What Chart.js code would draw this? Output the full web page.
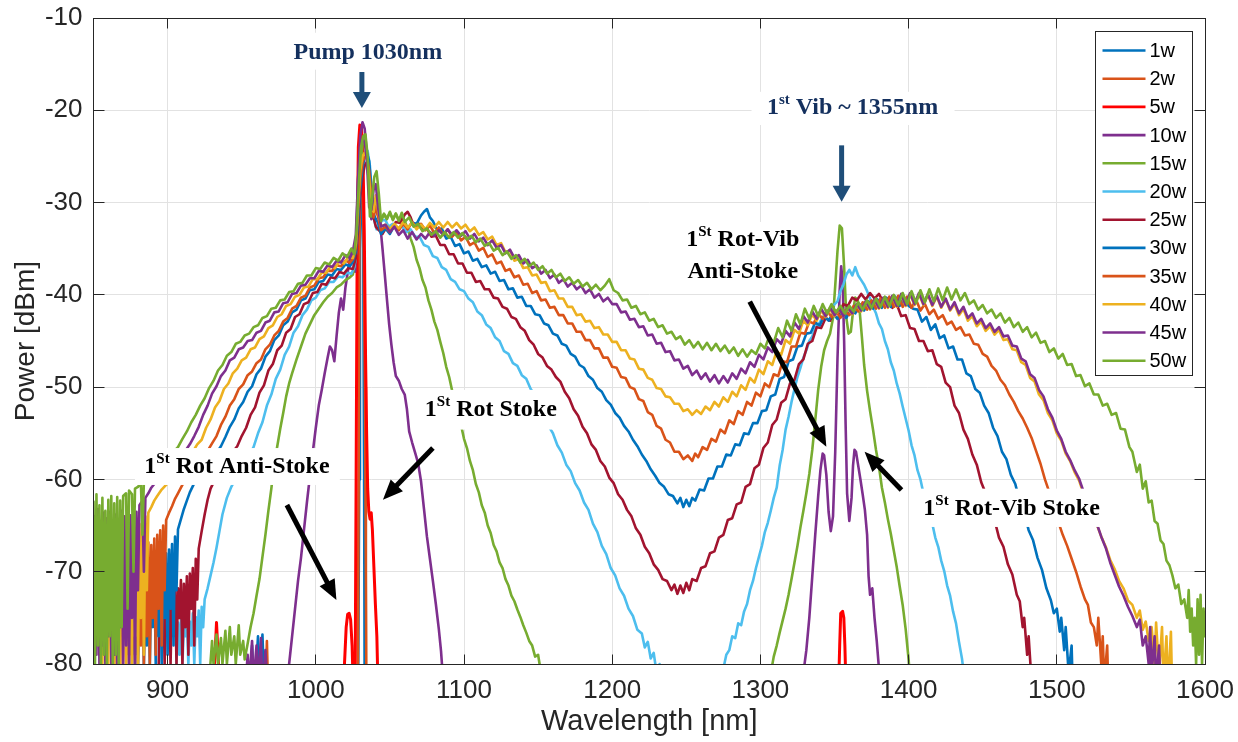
<!DOCTYPE html>
<html>
<head>
<meta charset="utf-8">
<title>Spectra vs pump power</title>
<script src="https://cdn.jsdelivr.net/npm/chart.js@4.4.1/dist/chart.umd.min.js"></script>
<style>
  html, body { margin: 0; padding: 0; background: #fff; }
  #wrap { width: 1238px; height: 742px; }
</style>
</head>
<body>
<div id="wrap"><canvas id="myChart" width="1238" height="742"></canvas></div>
<script>
/*
# spectra, one list of [wavelength nm, power dBm] per pump power
*/
const powers = ['1w', '2w', '5w', '10w', '15w', '20w', '25w', '30w', '35w', '40w', '45w', '50w'];

const s1w = [[955,-84],[957,-78],[958.5,-84],[961,-77],[962,-84],[964,-76.8],[965.5,-84],
  [1028.5,-85],[1029.3,-60],[1029.8,-35],[1030.5,-27],[1031.3,-26.5],[1032,-35],[1032.6,-60],[1033,-85]];

const s2w = [[966,-84],[967,-77.5],[968,-84],
  [1028.3,-85],[1028.9,-60],[1029.4,-35],[1030.2,-25],[1031.2,-24.5],[1032.2,-33],[1033.2,-50],[1033.8,-70],[1034.2,-85]];

const s5w = [[930,-84],[932,-79],[933,-75.5],[934,-78.8],[935.5,-84],
  [1018,-84],[1019.5,-79.5],[1020.5,-76],[1021.5,-74.6],[1022.5,-74.5],[1023.5,-75.2],[1024.5,-78],[1025.5,-84],
  [1026.5,-84],[1027.2,-60],[1027.9,-35],[1028.7,-24],[1029.7,-21.6],[1030.7,-21.8],[1031.7,-24],[1032.7,-33],
  [1033.6,-47],[1034.3,-55],[1035,-61],[1035.8,-63.5],[1036.6,-64.3],[1037.4,-63.6],[1038.2,-65.5],[1039.2,-69.5],
  [1040.2,-73.5],[1041.2,-77],[1042.2,-84],
  [1352.5,-84],[1353.5,-78],[1354.2,-74.5],[1355.5,-74.3],[1356.3,-75],[1357,-78],[1358,-84]];

const s10w = [[952,-84],[954,-79],[955,-82],[957,-77.5],[958,-82],[960,-78],[961,-82],[963,-77.2],[964,-83],[966,-78.5],[968,-84],
  [980,-84],[982,-80],[984,-77],[986,-74],[988,-71],[990,-68.5],[992,-65.5],[994,-62.5],[996,-59.7],[998,-57],
  [1000,-54.4],[1002,-52],[1004,-50.3],[1006,-48.5],[1008,-46.8],[1009.5,-45.6],[1011,-46],[1012.5,-47.2],[1014,-44.5],
  [1015.5,-42],[1017,-40.4],[1018.5,-41.6],[1020,-39.2],[1021.5,-37.6],[1023,-36],[1024.5,-35],[1025.5,-36.6],
  [1026.5,-37.5],[1027.5,-33],[1028.5,-27.5],[1030,-22.8],[1031.5,-21.3],[1033,-22],[1034.5,-24.8],[1036,-28.5],
  [1037.5,-31.8],[1039,-31.2],[1040.5,-30.8],[1042,-31.4],[1043.5,-32.4],[1045,-35],[1046.5,-37.7],[1048,-40.5],
  [1049.5,-43.2],[1051,-45.4],[1052.5,-47.3],[1054,-48.8],[1056,-49.3],[1058,-50.2],[1060,-50.8],[1061.5,-52.4],
  [1063,-54.8],[1065,-56],[1067,-57.1],[1069,-58.2],[1071,-60.2],[1073,-63.2],[1075,-66.2],[1077,-68.6],[1079,-71],
  [1081,-73.5],[1083,-76.2],[1084.5,-78.6],[1086,-82],
  [1326,-85],[1329,-81],[1331,-78.5],[1333,-75],[1335,-70.5],[1337,-66],[1339,-61.8],[1340.5,-59],[1342,-57.2],
  [1343,-57.4],[1344.5,-59.5],[1346,-63.5],[1347.5,-65.6],[1349,-64],[1350.5,-57],[1352,-47],[1353.5,-39.5],
  [1354.5,-36.9],[1355.5,-38.5],[1356.5,-45],[1357.5,-54],[1358.5,-61.5],[1360,-64.5],[1361.5,-62],[1362.5,-58.5],
  [1363.5,-56.8],[1364.5,-57],[1366,-58.5],[1367.5,-60],[1369,-61.6],[1370.5,-63.3],[1372,-66],[1373,-70.5],
  [1374,-72.5],[1375.5,-71.8],[1377,-75],[1378.5,-77.5],[1380,-80.5],[1382,-85]];

const s15w = [[928,-82],[930,-77.5],[931,-80],[933,-76.8],[934,-80],[936,-77.2],[937,-80],[939,-76.4],[940,-80],
  [942,-76],[943,-79],[945,-77],[946,-80],[948,-75.8],[949,-79],[951,-77.5],[952,-79.5],[954,-77.8],[956,-76],
  [958,-74.5],[960,-72.6],[962,-70.8],[964,-68.4],[966,-66],[968,-63.4],[970,-61],[972,-58.2],[974,-56.4],[976,-54.5],
  [978,-52.8],[980,-51],[982,-49.6],[984,-48.5],[987,-47],[990,-45.6],[993,-44.2],[996,-43.2],[999,-42.2],[1002,-41.5],
  [1005,-40.8],[1008,-40.2],[1011,-39.8],[1014,-39.2],[1017,-38.9],[1020,-38.4],[1023,-38.1],[1025,-37.8],
  [1027,-36],[1028.5,-31],[1030,-26.5],[1031.5,-23.8],[1033,-23.2],[1034.5,-24.5],[1036,-28.5],[1037.5,-31.5],
  [1039,-30.5],[1040.5,-29.5],[1042,-31.2],[1044,-31.8],[1046,-31.2],[1048,-31.7],[1050,-31.1],[1052,-31.8],
  [1054,-31.2],[1056,-31.9],[1058,-31.4],[1060,-32],[1062,-32.8],[1064,-33.9],[1066,-34.8],[1068,-36.2],[1070,-37.1],
  [1072,-38.4],[1074,-39.2],[1076,-40.6],[1078,-41.6],[1080,-42.9],[1082,-43.8],[1084,-45.1],[1086,-46.3],[1088,-47.8],
  [1090,-48.9],[1092,-50.4],[1094,-51.5],[1096,-53],[1098,-54.1],[1100,-55.6],[1102,-56.6],[1104,-58],[1106,-59],
  [1108,-60.5],[1110,-61.4],[1112,-62.8],[1114,-63.6],[1116,-65],[1118,-65.8],[1120,-67.1],[1122,-67.8],[1124,-69],
  [1126,-69.6],[1128,-70.8],[1130,-71.5],[1132,-72.6],[1134,-73.2],[1136,-74.1],[1138,-74.9],[1140,-75.8],[1142,-76.6],
  [1144,-77.5],[1146,-78],[1148,-79.2],[1150,-79],[1152,-81],[1154,-84],
  [1304,-84],[1307,-81],[1309,-79.2],[1311,-78],[1313,-76.6],[1315,-75.3],[1317,-74],[1319,-72.5],[1321,-70.8],
  [1323,-69],[1325,-67.2],[1327,-65.2],[1329,-63.4],[1331,-61.5],[1333,-59.4],[1335,-56.8],[1337,-53.6],[1339,-50.3],
  [1341,-47.8],[1343,-46],[1345,-45],[1347,-44.2],[1349,-42.5],[1350.5,-39],[1352,-35.3],[1353.5,-32.5],[1355,-32.8],
  [1356.5,-37],[1358,-42.5],[1359.5,-44.2],[1361,-44],[1362.5,-41.8],[1364,-40.3],[1365.5,-40.5],[1367,-41.8],
  [1368.5,-44.6],[1370,-47.6],[1372,-50.4],[1374,-52.6],[1376,-54.6],[1378,-56.8],[1380,-58.6],[1382,-60.9],
  [1384,-62.5],[1386,-64.3],[1388,-65.9],[1390,-67.7],[1392,-69.5],[1394,-71.6],[1396,-73.6],[1398,-76.2],
  [1400,-79.5],[1402,-84]];

const s20w = [[906,-80],[907,-75.5],[908,-79],[909,-75],[910,-80],[911,-75.8],[912,-77],[913,-74.8],[914,-80],
  [915,-75.4],[916,-78],[917,-74.5],[918,-80],[919,-74.9],[920,-77],[921,-74.2],[922,-80],[923,-73.8],[924,-76],
  [925,-73],[927,-71.8],[929,-70.4],[931,-69],[933,-67.4],[935,-65.6],[937,-63.8],[940,-62],[943,-60.8],[946,-59.9],
  [949,-59],[952,-58.4],[955,-57.4],[958,-56.5],[961,-55],[964,-53.8],[967,-52],[970,-50.8],[973,-49.1],[976,-48.1],
  [979,-46.5],[982,-45.6],[985,-44.1],[988,-43.4],[991,-42.2],[994,-41.6],[997,-40.6],[1000,-40.3],[1003,-39.5],
  [1006,-39.3],[1009,-38.6],[1012,-38.6],[1015,-38],[1018,-38.1],[1021,-37.6],[1024,-37.7],
  [1026,-37],[1027.5,-35],[1029,-31.5],[1030.5,-27.8],[1032,-25.2],[1033.5,-24.5],[1035,-24.4],[1036.5,-26],
  [1038,-29.5],[1039.5,-32],[1041,-32.9],[1043,-32.3],[1045,-31.9],[1047,-31.9],[1049,-32.6],[1052,-32.3],[1055,-32.9],
  [1058,-32.5],[1061,-33.2],[1064,-32.9],[1067,-33.7],[1070,-33.7],[1073,-34.6],[1076,-34.8],[1079,-35.8],[1082,-36],
  [1085,-37],[1088,-37.3],[1091,-38.3],[1094,-38.6],[1097,-39.4],[1100,-39.6],[1103,-40.4],[1106,-40.8],[1109,-41.8],
  [1112,-42.2],[1115,-43.2],[1118,-43.6],[1121,-44.6],[1124,-45],[1127,-46.1],[1130,-46.4],[1133,-47.4],[1136,-47.7],
  [1139,-48.7],[1142,-49.1],[1145,-50.2],[1148,-50.9],[1151,-52.1],[1154,-52.9],[1157,-54.2],[1160,-55],[1163,-56.3],
  [1166,-57.1],[1169,-58.4],[1172,-59.1],[1175,-60.4],[1178,-61.2],[1181,-62.5],[1184,-63.3],[1187,-64.8],[1190,-65.7],
  [1193,-67.2],[1196,-68.1],[1199,-69.6],[1202,-70.4],[1205,-71.8],[1208,-72.6],[1211,-74],[1214,-74.8],[1217,-76.3],
  [1220,-76.7],[1222,-78.2],[1224,-77.6],[1226,-79.4],[1228,-78.8],[1230,-81],[1232,-80],[1234,-84],
  [1272,-84],[1275,-80.5],[1277,-79],[1279,-78.5],[1281,-77],[1283,-77.2],[1285,-75.6],[1287,-75.8],[1289,-74.3],
  [1291,-73.5],[1293,-72],[1295,-71],[1297,-69.6],[1299,-68.4],[1301,-67.2],[1303,-65.7],[1305,-64.7],[1307,-63.4],
  [1309,-62],[1311,-60.9],[1313,-58.5],[1315,-56.8],[1317,-54.6],[1319,-53.2],[1321,-51.6],[1323,-50.2],[1325,-48.9],
  [1327,-47.9],[1329,-46.8],[1331,-46],[1333,-45],[1335,-44.5],[1337,-43.6],[1340,-43],[1343,-42.2],[1346,-41.9],
  [1349,-41.2],[1352,-40.7],[1354,-39.6],[1356,-38.9],[1358,-37.8],[1360,-37.3],[1362,-37.9],[1364,-37],[1366,-37.9],
  [1368,-38.4],[1370,-38.9],[1372,-39.6],[1374,-40.4],[1376,-41.3],[1378,-42],[1380,-43.1],[1382,-43.7],[1384,-45],
  [1386,-45.9],[1388,-47.3],[1390,-48.2],[1392,-49.6],[1394,-50.7],[1396,-52.1],[1398,-53.4],[1400,-54.7],[1402,-56.3],
  [1404,-57.4],[1406,-59],[1408,-60],[1410,-61.5],[1412,-62.3],[1414,-63.8],[1416,-64.8],[1418,-66.3],[1420,-67.3],
  [1422,-68.8],[1424,-69.9],[1426,-71.5],[1428,-72.6],[1430,-74.3],[1432,-75.6],[1434,-77.6],[1436,-79.4],[1438,-82]];

const s25w = [[894,-80],[895,-72],[896,-78],[897,-71.5],[898,-80],[899,-72.2],[900,-76],[901,-71.4],[902,-80],
  [903,-72],[904,-77],[905,-71.2],[906,-80],[907,-71.8],[908,-75],[909,-70.9],[910,-80],[911,-71.3],[912,-76],
  [913,-70.5],[914,-79],[915,-70.2],[916,-74],[917,-69.6],[918,-78],[919,-68.6],[920,-73],[921,-67.5],[923,-65.6],
  [925,-63.8],[927,-62.2],[929,-61],[932,-60],[935,-59.2],[938,-58.3],[941,-57.7],[944,-57],[947,-56.4],[950,-55.3],
  [953,-54.4],[956,-53],[959,-52.2],[962,-50.6],[965,-49.8],[968,-48.2],[971,-47.5],[974,-46],[977,-45.5],[980,-44.1],
  [983,-43.7],[986,-42.4],[989,-42.1],[992,-41],[995,-40.8],[998,-39.8],[1001,-39.7],[1004,-38.8],[1007,-38.9],
  [1010,-38.1],[1013,-38.2],[1016,-37.5],[1019,-37.7],[1022,-37.1],[1025,-37.2],
  [1027,-36],[1028.5,-33],[1030,-29.5],[1031.5,-27.2],[1033,-26],[1034.5,-25.6],[1036,-26.5],[1037.5,-29],
  [1039,-31.6],[1040.5,-32.6],[1042,-32.9],[1045,-33.4],[1048,-32.6],[1051,-33],[1054,-32.1],[1057,-32.2],[1060,-31.3],
  [1062,-31],[1064,-31.6],[1066,-32.5],[1069,-32.2],[1072,-33],[1075,-32.8],[1078,-33.7],[1081,-33.6],[1084,-34.6],
  [1087,-34.6],[1090,-35.6],[1093,-35.6],[1096,-36.6],[1099,-36.6],[1102,-37.6],[1105,-37.6],[1108,-38.6],[1111,-38.5],
  [1114,-39.4],[1117,-39.4],[1120,-40.3],[1123,-40.4],[1126,-41.3],[1129,-41.5],[1132,-42.4],[1135,-42.6],[1138,-43.5],
  [1141,-43.9],[1144,-44.9],[1147,-45.4],[1150,-46.4],[1153,-46.8],[1156,-47.7],[1159,-48.1],[1162,-48.9],[1165,-49.4],
  [1168,-50.5],[1171,-51.2],[1174,-52.4],[1177,-53.1],[1180,-54.3],[1183,-55],[1186,-56.2],[1189,-56.8],[1192,-58],
  [1195,-58.6],[1198,-59.8],[1201,-60.4],[1204,-61.6],[1207,-62.2],[1210,-63.3],[1213,-64],[1216,-65.3],[1219,-66],
  [1222,-67.3],[1225,-68],[1228,-69.2],[1231,-69.8],[1234,-70.8],[1237,-71],[1240,-72],[1242,-71.4],[1244,-72.4],
  [1246,-71.5],[1248,-72.3],[1250,-71.2],[1252,-72],[1254,-70.8],[1257,-71],[1260,-69.6],[1263,-69.4],[1266,-68],
  [1269,-67.8],[1272,-66.3],[1275,-66],[1278,-64.4],[1281,-64.2],[1284,-62.7],[1287,-62.5],[1290,-60.8],[1293,-60.5],
  [1296,-58.8],[1299,-58.4],[1302,-56.6],[1305,-56],[1308,-54.1],[1311,-53.5],[1314,-51.7],[1317,-51.3],[1320,-49.6],
  [1323,-49.2],[1326,-47.5],[1329,-47],[1332,-45.3],[1335,-45],[1338,-43.5],[1341,-43.6],[1344,-42.5],[1347,-42.8],
  [1350,-41.8],[1353,-42],[1356,-41],[1359,-41.2],[1362,-40.3],[1365,-40.6],[1368,-39.9],[1371,-40.5],[1374,-39.8],
  [1377,-40.4],[1380,-39.9],[1383,-40.8],[1386,-40.4],[1389,-41.4],[1392,-41],[1395,-42.3],[1398,-42.2],[1401,-43.6],
  [1404,-43.7],[1407,-45],[1410,-45],[1413,-46.1],[1416,-46],[1419,-47.5],[1422,-47.8],[1425,-49.5],[1428,-50],
  [1431,-52],[1434,-52.8],[1437,-54.6],[1440,-55.6],[1443,-57.3],[1446,-58.4],[1449,-60.3],[1452,-61.5],[1455,-63.3],
  [1458,-64.4],[1461,-66.3],[1464,-67.3],[1467,-69.2],[1470,-70.3],[1473,-72.5],[1475,-73.2],[1477,-76],[1478,-75],
  [1480,-79],[1481,-77],[1483,-82]];

const s30w = [[876,-80],[877,-70],[878,-79],[879,-69.5],[880,-80],[881,-70.4],[882,-77],[883,-69.6],[884,-80],
  [885,-70.2],[886,-78],[887,-69.3],[888,-80],[889,-69.9],[890,-76],[891,-69.1],[892,-80],[893,-69.6],[894,-77],
  [895,-68.8],[896,-80],[897,-68.5],[898,-75],[899,-68],[900,-79],[901,-67.6],[902,-74],[903,-67],[904,-78],
  [905,-66.2],[906,-72],[907,-65.4],[909,-64.3],[911,-63.2],[913,-62.3],[915,-61.4],[918,-60.4],[921,-59.6],
  [924,-58.8],[927,-58.2],[930,-57.6],[933,-57.1],[936,-56.4],[939,-55.4],[942,-54.3],[945,-53.5],[948,-52.3],
  [951,-51.6],[954,-50.5],[957,-49.9],[960,-48.6],[963,-48],[966,-46.7],[969,-46.1],[972,-44.9],[975,-44.4],
  [978,-43.3],[981,-42.9],[984,-41.9],[987,-41.6],[990,-40.6],[993,-40.4],[996,-39.5],[999,-39.4],[1002,-38.6],
  [1005,-38.5],[1008,-37.8],[1011,-37.9],[1014,-37.2],[1017,-37.3],[1020,-36.7],[1023,-36.9],[1025,-36.4],
  [1027,-35.3],[1028.5,-32],[1030,-28.5],[1031.5,-26.2],[1033,-25],[1034.5,-24.6],[1036,-25.5],[1037.5,-28.5],
  [1039,-31.2],[1040.5,-31.8],[1042,-32.2],[1044,-33.4],[1047,-32.8],[1050,-33.4],[1053,-32.5],[1056,-32.9],
  [1059,-32.2],[1062,-32.8],[1065,-32.2],[1068,-32.3],[1071,-31.4],[1073,-31],[1075,-30.7],[1077,-31.6],[1079,-32],
  [1082,-33],[1085,-32.8],[1088,-33.9],[1091,-33.7],[1094,-34.7],[1097,-34.5],[1100,-35.5],[1103,-35.3],[1106,-36.3],
  [1109,-36.1],[1112,-37],[1115,-36.8],[1118,-37.7],[1121,-37.5],[1124,-38.5],[1127,-38.4],[1130,-39.4],[1133,-39.3],
  [1136,-40.3],[1139,-40.2],[1142,-41.2],[1145,-41.2],[1148,-42.1],[1151,-42.2],[1154,-43.1],[1157,-43.3],[1160,-44.2],
  [1163,-44.4],[1166,-45.3],[1169,-45.5],[1172,-46.4],[1175,-46.7],[1178,-47.6],[1181,-47.9],[1184,-48.8],[1187,-49.2],
  [1190,-50.1],[1193,-50.5],[1196,-51.4],[1199,-51.9],[1202,-52.8],[1205,-53.3],[1208,-54.2],[1211,-54.8],[1214,-55.7],
  [1217,-56.4],[1220,-57.3],[1223,-58],[1226,-58.9],[1229,-59.6],[1232,-60.4],[1235,-60.8],[1238,-61.6],[1241,-61.8],
  [1244,-62.6],[1246,-62],[1248,-63],[1250,-62.2],[1252,-62.9],[1254,-62],[1256,-62.3],[1259,-61.1],[1262,-61.2],
  [1265,-59.9],[1268,-59.9],[1271,-58.6],[1274,-58.6],[1277,-57.3],[1280,-57.4],[1283,-56.2],[1286,-56.3],[1289,-55],
  [1292,-55.1],[1295,-53.9],[1298,-53.9],[1301,-52.6],[1304,-52.5],[1307,-51],[1310,-50.8],[1313,-49.1],[1316,-48.9],
  [1319,-47.2],[1322,-47],[1325,-45.6],[1328,-45.5],[1331,-44.2],[1334,-44.1],[1337,-43],[1340,-43.3],[1343,-42.3],
  [1346,-42.8],[1349,-42],[1352,-42.6],[1355,-41.9],[1358,-42.5],[1361,-41.6],[1364,-42],[1367,-41],[1370,-41.7],
  [1373,-40.7],[1376,-41.5],[1379,-40.5],[1382,-41.4],[1385,-40.3],[1388,-41.3],[1391,-40.2],[1394,-41.2],[1397,-40.3],
  [1400,-41.2],[1403,-41.5],[1406,-41.6],[1409,-42.9],[1412,-42.4],[1415,-43.8],[1418,-43.2],[1421,-44.7],[1424,-44.4],
  [1427,-45.8],[1430,-45.6],[1433,-47],[1436,-47],[1439,-48.5],[1442,-48.8],[1445,-50.2],[1448,-50.6],[1451,-52],
  [1454,-52.8],[1457,-54.4],[1460,-55.3],[1463,-57],[1466,-57.8],[1469,-59.5],[1472,-60.5],[1475,-62.4],[1478,-63.6],
  [1481,-65.5],[1484,-66.6],[1487,-68.5],[1490,-69.8],[1493,-71.8],[1496,-73.1],[1498,-74.5],[1500,-74],[1502,-76.5],
  [1503,-75],[1505,-78.5],[1506,-76],[1508,-81],[1510,-78],[1511,-84]];

const s35w = [[864,-80],[865,-68],[866,-78],[867,-67.5],[868,-80],[869,-68.4],[870,-77],[871,-67.6],[872,-80],
  [873,-68.6],[874,-79],[875,-67.8],[876,-80],[877,-68.2],[878,-76],[879,-67.4],[880,-80],[881,-68],[882,-78],
  [883,-67.2],[884,-80],[885,-67.7],[886,-77],[887,-66.8],[888,-80],[889,-67.1],[890,-75],[891,-66.4],[892,-79],
  [893,-66],[894,-74],[895,-65.5],[896,-78],[897,-65],[898,-72],[899,-64.4],[901,-63.6],[903,-62.9],[905,-62.1],
  [907,-61.5],[909,-60.9],[912,-60],[915,-59.4],[918,-58.6],[921,-58.1],[924,-57.3],[927,-56.9],[930,-56.1],
  [933,-55.3],[936,-54.1],[939,-53.2],[942,-52],[945,-51.3],[948,-50.2],[951,-49.7],[954,-48.7],[957,-48.3],
  [960,-47.4],[963,-47],[966,-45.9],[969,-45.4],[972,-44.4],[975,-43.9],[978,-42.9],[981,-42.5],[984,-41.5],
  [987,-41.2],[990,-40.3],[993,-40.1],[996,-39.2],[999,-39],[1002,-38.2],[1005,-38.1],[1008,-37.4],[1011,-37.4],
  [1014,-36.8],[1017,-36.9],[1020,-36.3],[1023,-36.5],[1025,-36.1],
  [1027,-35],[1028.5,-31],[1030,-27.5],[1031.5,-25.6],[1033,-25],[1034.5,-25],[1036,-26.5],[1037.5,-29.5],
  [1039,-31.6],[1040.5,-30.4],[1042,-31.5],[1044,-33],[1047,-32.6],[1050,-33.2],[1053,-32.5],[1056,-33],[1059,-32.3],
  [1062,-32.9],[1065,-32.1],[1068,-32.7],[1071,-32.3],[1074,-33],[1077,-32.5],[1080,-33.3],[1083,-32.7],[1086,-33.5],
  [1089,-32.9],[1092,-33.7],[1095,-33.2],[1098,-34.1],[1101,-33.7],[1104,-34.6],[1107,-34.3],[1110,-35.2],[1113,-34.9],
  [1116,-35.9],[1119,-35.6],[1122,-36.6],[1125,-36.4],[1128,-37.4],[1131,-37.2],[1134,-38.1],[1137,-37.9],[1140,-38.9],
  [1143,-38.8],[1146,-39.8],[1149,-39.6],[1152,-40.6],[1155,-40.5],[1158,-41.4],[1161,-41.3],[1164,-42.2],[1167,-42.2],
  [1170,-43.1],[1173,-43.1],[1176,-44],[1179,-44],[1182,-44.9],[1185,-44.9],[1188,-45.8],[1191,-45.8],[1194,-46.8],
  [1197,-46.8],[1200,-47.8],[1203,-47.9],[1206,-48.9],[1209,-49],[1212,-50],[1215,-50.2],[1218,-51.3],[1221,-51.5],
  [1224,-52.7],[1227,-53],[1230,-54.2],[1233,-54.5],[1236,-55.7],[1239,-56],[1242,-57],[1245,-57],[1248,-57.8],
  [1251,-57.4],[1254,-58],[1256,-57.2],[1258,-57.6],[1261,-56.5],[1264,-56.8],[1267,-55.6],[1270,-55.9],[1273,-54.6],
  [1276,-55],[1279,-53.6],[1282,-54],[1285,-52.6],[1288,-53],[1291,-51.6],[1294,-52],[1297,-50.6],[1300,-51],
  [1303,-49.6],[1306,-50],[1309,-48.6],[1312,-48.8],[1315,-47.2],[1318,-47.3],[1321,-45.6],[1324,-45.6],[1327,-44.1],
  [1330,-44.2],[1333,-42.9],[1336,-43.1],[1339,-42],[1342,-42.6],[1345,-41.7],[1348,-42.4],[1351,-41.7],[1354,-42.5],
  [1357,-41.7],[1360,-42.2],[1363,-41.2],[1366,-41.8],[1369,-40.8],[1372,-41.6],[1375,-40.6],[1378,-41.5],[1381,-40.4],
  [1384,-41.4],[1387,-40.2],[1390,-41.3],[1393,-40.1],[1396,-41.3],[1399,-40.2],[1402,-41.4],[1405,-40.5],[1408,-41.7],
  [1411,-41],[1414,-42.1],[1417,-41.6],[1420,-42.6],[1423,-42.2],[1426,-43.2],[1429,-42.9],[1432,-43.8],[1435,-43.5],
  [1438,-44.4],[1441,-44.3],[1444,-45.3],[1447,-45.4],[1450,-46.4],[1453,-46.7],[1456,-47.7],[1459,-48.2],[1462,-49.2],
  [1465,-49.8],[1468,-50.8],[1471,-51.6],[1474,-52.6],[1477,-53.4],[1480,-54.4],[1483,-55.5],[1486,-56.9],[1489,-58.3],
  [1492,-60],[1495,-61.4],[1498,-63.1],[1501,-64.6],[1504,-66],[1507,-67.2],[1510,-68.6],[1513,-70],[1516,-71.6],
  [1519,-73],[1521,-73.6],[1523,-75.5],[1525,-76],[1527,-78],[1528,-75],[1530,-80],[1531,-77],[1532,-82],[1534,-78],
  [1535,-84]];

const s40w = [[856,-80],[857,-66.5],[858,-79],[859,-67],[860,-80],[861,-66],[862,-77],[863,-66.8],[864,-80],
  [865,-65.8],[866,-78],[867,-66.4],[868,-80],[869,-65.5],[870,-76],[871,-66.2],[872,-80],[873,-65.4],[874,-79],
  [875,-65.9],[876,-80],[877,-65],[878,-77],[879,-65.5],[880,-80],[881,-64.8],[882,-75],[883,-64.6],[884,-79],
  [885,-64],[886,-72],[887,-63.6],[889,-63],[891,-62.3],[893,-61.8],[896,-61.1],[899,-60.6],[902,-59.9],[905,-59.4],
  [908,-58.6],[911,-58.2],[914,-57.3],[917,-57],[920,-56.2],[923,-55.7],[926,-54.4],[929,-53.5],[932,-52.2],
  [935,-51.5],[938,-50.2],[941,-49.6],[944,-48.5],[947,-48],[950,-47.1],[953,-46.8],[956,-45.9],[959,-45.7],
  [962,-44.8],[965,-44.5],[968,-43.6],[971,-43.3],[974,-42.4],[977,-42.1],[980,-41.2],[983,-41],[986,-40.2],
  [989,-40],[992,-39.2],[995,-39.1],[998,-38.3],[1001,-38.3],[1004,-37.6],[1007,-37.6],[1010,-36.9],[1013,-37.1],
  [1016,-36.3],[1019,-36.6],[1022,-35.9],[1025,-36],
  [1027,-34.5],[1028.5,-30],[1030,-26.5],[1031.5,-25],[1033,-24.6],[1034.5,-25.2],[1036,-27.5],[1037.5,-30.5],
  [1039,-31],[1040.5,-29.2],[1042,-30.8],[1044,-32.6],[1047,-32.4],[1050,-32.9],[1053,-32.3],[1056,-32.8],[1059,-32.1],
  [1062,-32.7],[1065,-32.2],[1068,-32.9],[1071,-32.4],[1074,-32.9],[1077,-32.2],[1080,-32.7],[1083,-32.1],[1086,-32.7],
  [1089,-32.1],[1092,-32.7],[1095,-32.2],[1098,-32.8],[1101,-32.4],[1104,-33.1],[1107,-32.7],[1110,-33.5],[1113,-33.2],
  [1116,-34],[1119,-33.7],[1122,-34.6],[1125,-34.4],[1128,-35.4],[1131,-35.2],[1134,-36.3],[1137,-36.1],[1140,-37.1],
  [1143,-37],[1146,-37.9],[1149,-37.8],[1152,-38.7],[1155,-38.6],[1158,-39.6],[1161,-39.5],[1164,-40.4],[1167,-40.4],
  [1170,-41.3],[1173,-41.3],[1176,-42.2],[1179,-42.1],[1182,-42.9],[1185,-42.8],[1188,-43.6],[1191,-43.5],[1194,-44.3],
  [1197,-44.3],[1200,-45.1],[1203,-45.1],[1206,-46],[1209,-46],[1212,-46.9],[1215,-47],[1218,-48],[1221,-48.1],
  [1224,-49],[1227,-49.2],[1230,-50.1],[1233,-50.2],[1236,-51],[1239,-51.1],[1242,-51.8],[1245,-51.8],[1248,-52.6],
  [1251,-52.4],[1254,-53],[1257,-52.5],[1260,-52.9],[1263,-52.1],[1266,-52.5],[1269,-51.6],[1272,-52.1],[1275,-51.1],
  [1278,-51.6],[1281,-50.5],[1284,-51],[1287,-49.8],[1290,-50.3],[1293,-49],[1296,-49.5],[1299,-48.1],[1302,-48.6],
  [1305,-47.2],[1308,-47.6],[1311,-46.1],[1314,-46.5],[1317,-44.9],[1320,-45.3],[1323,-43.8],[1326,-44.2],[1329,-42.8],
  [1332,-43.3],[1335,-42.1],[1338,-42.8],[1341,-41.7],[1344,-42.4],[1347,-41.6],[1350,-42.3],[1353,-41.6],[1356,-42.3],
  [1359,-41.5],[1362,-42.1],[1365,-41.1],[1368,-41.8],[1371,-40.8],[1374,-41.6],[1377,-40.6],[1380,-41.5],[1383,-40.4],
  [1386,-41.4],[1389,-40.2],[1392,-41.3],[1395,-40],[1398,-41.2],[1401,-39.9],[1404,-41.1],[1407,-39.9],[1410,-41.1],
  [1413,-40],[1416,-41.2],[1419,-40.2],[1422,-41.4],[1425,-40.5],[1428,-41.7],[1431,-41],[1434,-42.2],[1437,-41.5],
  [1440,-42.8],[1443,-42.3],[1446,-43.4],[1449,-42.9],[1452,-43.9],[1455,-43.4],[1458,-44.3],[1461,-43.8],[1464,-44.9],
  [1467,-44.8],[1470,-45.9],[1473,-46],[1476,-47.3],[1479,-47.6],[1482,-49],[1485,-49.4],[1488,-50.8],[1491,-51.4],
  [1494,-52.8],[1497,-53.6],[1500,-55],[1503,-55.8],[1506,-57.2],[1509,-58],[1512,-59.2],[1515,-60.1],[1518,-61.5],
  [1521,-62.5],[1524,-63.9],[1527,-64.9],[1530,-66.2],[1533,-67.3],[1536,-68.7],[1539,-69.7],[1542,-71],[1545,-71.8],
  [1548,-73.1],[1551,-73.6],[1554,-75],[1556,-74.2],[1558,-76.3],[1560,-75.4],[1562,-77.5],[1564,-76],[1566,-80],
  [1567,-75.5],[1569,-81],[1571,-76],[1572,-82],[1574,-77],[1575,-83],[1577,-76.5],[1578,-84]];

const s45w = [[850,-80],[851,-64],[852,-79],[853,-63.2],[854,-80],[855,-64.5],[856,-78],[857,-63.6],[858,-80],
  [859,-64.2],[860,-77],[861,-63.5],[862,-80],[863,-64.8],[864,-79],[865,-63.8],[866,-80],[867,-64.3],[868,-76],
  [869,-63.4],[870,-80],[871,-64],[872,-78],[873,-63.6],[874,-80],[875,-63.9],[876,-75],[877,-63.2],[878,-80],
  [879,-63.5],[880,-72],[881,-62.8],[883,-62.3],[884,-70],[885,-62],[887,-61.5],[889,-60.9],[891,-60.5],[894,-59.9],
  [897,-59.2],[900,-58.7],[903,-58.1],[906,-57.7],[909,-57.2],[912,-56.9],[915,-56.2],[918,-55.3],[921,-54.3],
  [924,-53],[927,-52],[930,-50.7],[933,-49.9],[936,-48.8],[939,-48.2],[942,-47.1],[945,-46.8],[948,-45.9],[951,-45.7],
  [954,-45],[957,-44.9],[960,-44.1],[963,-43.9],[966,-43],[969,-42.8],[972,-41.9],[975,-41.8],[978,-40.9],[981,-40.8],
  [984,-39.9],[987,-39.8],[990,-39],[993,-38.9],[996,-38.2],[999,-38.2],[1002,-37.4],[1005,-37.5],[1008,-36.8],
  [1011,-37],[1014,-36.3],[1017,-36.5],[1020,-35.7],[1023,-36],[1025,-35.3],
  [1027,-33.5],[1028.5,-27.5],[1030,-24],[1031.5,-23.2],[1033,-23.4],[1034.5,-25.5],[1036,-30.5],[1037.5,-30.8],
  [1039,-28.6],[1040.5,-28],[1042,-30.5],[1044,-32.6],[1047,-32.4],[1050,-33.2],[1053,-32.6],[1056,-33.5],[1059,-33],
  [1062,-33.9],[1065,-33.2],[1068,-34],[1071,-33.4],[1074,-33.9],[1077,-33.2],[1080,-33.6],[1083,-33],[1086,-33.5],
  [1089,-32.9],[1092,-33.5],[1095,-33],[1098,-33.6],[1101,-33.1],[1104,-33.9],[1107,-33.4],[1110,-34.2],[1113,-33.8],
  [1116,-34.6],[1119,-34.1],[1122,-34.9],[1125,-34.6],[1128,-35.5],[1131,-35.1],[1134,-36],[1137,-35.7],[1140,-36.6],
  [1143,-36.2],[1146,-37.1],[1149,-36.8],[1152,-37.7],[1155,-37.3],[1158,-38.2],[1161,-37.8],[1164,-38.7],[1167,-38.3],
  [1170,-39.1],[1173,-38.7],[1176,-39.4],[1179,-39],[1182,-39.8],[1185,-39.4],[1188,-40.3],[1191,-39.9],[1194,-40.7],
  [1197,-40.3],[1200,-41],[1203,-41],[1206,-41.9],[1209,-41.8],[1212,-42.7],[1215,-42.6],[1218,-43.5],[1221,-43.4],
  [1224,-44.4],[1227,-44.3],[1230,-45.3],[1233,-45.2],[1236,-46.2],[1239,-46.1],[1242,-47.1],[1245,-47],[1248,-48],
  [1251,-47.7],[1254,-48.7],[1257,-48.2],[1260,-49.1],[1263,-48.5],[1266,-49.4],[1269,-48.7],[1272,-49.6],[1275,-48.8],
  [1278,-49.5],[1281,-48.5],[1284,-49.1],[1287,-48],[1290,-48.5],[1293,-47.3],[1296,-47.8],[1299,-46.5],[1302,-47],
  [1305,-45.7],[1308,-46.2],[1311,-44.8],[1314,-45.3],[1317,-43.9],[1320,-44.5],[1323,-43],[1326,-43.7],[1329,-42.3],
  [1332,-43],[1335,-41.8],[1338,-42.6],[1341,-41.5],[1344,-42.3],[1347,-41.4],[1350,-42.2],[1353,-41.5],[1356,-42.3],
  [1359,-41.4],[1362,-42],[1365,-41],[1368,-41.7],[1371,-40.7],[1374,-41.5],[1377,-40.5],[1380,-41.4],[1383,-40.3],
  [1386,-41.3],[1389,-40.1],[1392,-41.2],[1395,-39.9],[1398,-41.1],[1401,-39.8],[1404,-41],[1407,-39.8],[1410,-41],
  [1413,-39.9],[1416,-41.1],[1419,-40.1],[1422,-41.3],[1425,-40.4],[1428,-41.6],[1431,-40.8],[1434,-42],[1437,-41.3],
  [1440,-42.5],[1443,-42],[1446,-43.1],[1449,-42.6],[1452,-43.6],[1455,-43.1],[1458,-44],[1461,-43.5],[1464,-44.5],
  [1467,-44.4],[1470,-45.5],[1473,-45.6],[1476,-46.9],[1479,-47.2],[1482,-48.6],[1485,-49],[1488,-50.3],[1491,-51],
  [1494,-52.4],[1497,-53.3],[1500,-54.7],[1503,-55.6],[1506,-57],[1509,-57.9],[1512,-59],[1515,-59.9],[1518,-61.3],
  [1521,-62.4],[1524,-63.8],[1527,-64.8],[1530,-66.2],[1533,-67.4],[1536,-69],[1539,-70.3],[1542,-71.6],[1545,-72.6],
  [1548,-73.8],[1551,-74.8],[1554,-76],[1556,-75.2],[1558,-78],[1560,-77],[1562,-80],[1563,-76],[1564,-81],
  [1566,-77],[1567,-82],[1569,-78],[1570,-83]];

const s50w = [[850,-62.4],[851,-80],[852,-61.6],[853,-78],[854,-62.8],[855,-80],[856,-62],[857,-79],[858,-63.4],
  [859,-80],[860,-62.2],[861,-77],[862,-61.8],[863,-80],[864,-62.6],[865,-79],[866,-61.9],[867,-80],[868,-62.3],
  [869,-76],[870,-61.8],[872,-61.5],[873,-74],[874,-61.2],[876,-61.6],[877,-70],[878,-61],[880,-60.8],[882,-60.4],
  [883,-66],[884,-60.2],[886,-59.9],[888,-59.6],[890,-59.3],[893,-58.8],[896,-58.3],[900,-57.7],[904,-57],[907,-56.5],
  [910,-55.6],[913,-54.8],[916,-53.8],[919,-53],[922,-52],[925,-51.2],[928,-50.1],[931,-49.3],[934,-48.2],[937,-47.6],
  [940,-46.6],[943,-46.2],[946,-45.3],[949,-45.1],[952,-44.4],[955,-44.2],[958,-43.5],[961,-43.3],[964,-42.5],
  [967,-42.3],[970,-41.5],[973,-41.4],[976,-40.6],[979,-40.5],[982,-39.7],[985,-39.6],[988,-38.8],[991,-38.7],
  [994,-37.9],[997,-37.9],[1000,-37.1],[1003,-37.2],[1006,-36.5],[1009,-36.7],[1012,-36],[1015,-36.3],[1018,-35.5],
  [1021,-35.9],[1024,-35],[1026,-35.6],
  [1027.5,-33],[1029,-28],[1030.5,-24],[1032,-22.8],[1033.5,-22.6],[1035,-25],[1036.5,-31.5],[1038,-29.5],
  [1039.5,-27.2],[1041,-26.6],[1042.5,-29],[1044,-32],[1046,-31.3],[1048,-31.8],[1050,-31],[1052,-31.9],[1054,-31.2],
  [1056,-32],[1058,-31.1],[1060,-32.1],[1063,-31.6],[1066,-32.6],[1069,-32.3],[1072,-33.1],[1075,-32.8],[1078,-33.5],
  [1081,-33.1],[1084,-33.8],[1087,-33.2],[1090,-33.8],[1093,-33.2],[1096,-33.8],[1099,-33.3],[1102,-34],[1105,-33.6],
  [1108,-34.3],[1111,-33.9],[1114,-34.7],[1117,-34.4],[1120,-35.2],[1123,-34.9],[1126,-35.7],[1129,-35.3],[1132,-36.1],
  [1135,-35.7],[1138,-36.5],[1141,-36.1],[1144,-36.9],[1147,-36.5],[1150,-37.3],[1153,-36.9],[1156,-37.7],[1159,-37.3],
  [1162,-38.1],[1165,-37.7],[1168,-38.5],[1171,-38.1],[1174,-38.8],[1177,-38.4],[1180,-39.1],[1183,-38.7],[1186,-39.4],
  [1189,-38.9],[1192,-39.5],[1195,-39],[1198,-38.3],[1201,-39.5],[1204,-39.8],[1207,-40.6],[1210,-40.5],[1213,-41.4],
  [1216,-41.2],[1219,-42.1],[1222,-41.9],[1225,-42.8],[1228,-42.6],[1231,-43.5],[1234,-43.3],[1237,-44.2],[1240,-44],
  [1243,-44.8],[1246,-44.5],[1249,-45.4],[1252,-44.9],[1255,-45.7],[1258,-45.1],[1261,-45.9],[1264,-45.2],[1267,-46],
  [1270,-45.3],[1273,-46.1],[1276,-45.5],[1279,-46.3],[1282,-45.7],[1285,-46.6],[1288,-45.9],[1291,-46.7],[1294,-46],
  [1297,-46.4],[1300,-45.3],[1303,-45.8],[1306,-44.5],[1309,-45.2],[1312,-43.6],[1315,-44.6],[1318,-42.8],[1321,-43.9],
  [1324,-42.1],[1327,-43.2],[1330,-41.5],[1333,-42.6],[1336,-41.2],[1339,-42.3],[1342,-41],[1345,-42],[1348,-41],
  [1351,-41.9],[1354,-41.2],[1357,-42],[1360,-41.2],[1363,-41.8],[1366,-40.8],[1369,-41.6],[1372,-40.6],[1375,-41.4],
  [1378,-40.4],[1381,-41.3],[1384,-40.2],[1387,-41.2],[1390,-40],[1393,-41.1],[1396,-39.8],[1399,-41],[1402,-39.6],
  [1405,-40.9],[1408,-39.5],[1411,-40.8],[1414,-39.4],[1417,-40.7],[1420,-39.3],[1423,-40.6],[1426,-39.2],[1429,-40.5],
  [1432,-39.4],[1435,-40.6],[1438,-39.8],[1441,-41],[1444,-40.6],[1447,-41.6],[1450,-41.1],[1453,-42],[1456,-41.6],
  [1459,-42.5],[1462,-42],[1465,-43],[1468,-42.5],[1471,-43.5],[1474,-43],[1477,-44],[1480,-43.5],[1483,-44.6],
  [1486,-44.1],[1489,-45.2],[1492,-45],[1495,-46.2],[1498,-45.8],[1501,-46.9],[1504,-46.4],[1507,-47.6],[1510,-47.5],
  [1513,-48.8],[1516,-48.7],[1519,-49.9],[1522,-49.6],[1525,-50.8],[1528,-50.8],[1531,-52],[1534,-51.8],[1537,-53],
  [1540,-52.8],[1543,-54.5],[1546,-54.6],[1549,-56.5],[1551,-57],[1554,-59.2],[1556,-58.4],[1558,-61],[1560,-60.2],
  [1562,-62.5],[1564,-62.3],[1566,-64.5],[1568,-64.8],[1570,-66.6],[1572,-67],[1574,-68.8],[1576,-69.3],[1578,-70.4],
  [1580,-71.8],[1582,-71.4],[1584,-73.5],[1586,-73],[1588,-75],[1589,-72],[1590,-76.5],[1591,-74],[1592,-78],
  [1593,-75],[1594,-80],[1595,-73],[1596,-79],[1597,-72.5],[1598,-80],[1599,-74],[1600,-77]];

const spectra = [s1w, s2w, s5w, s10w, s15w, s20w, s25w, s30w, s35w, s40w, s45w, s50w];

const xTicks = [900, 1000, 1100, 1200, 1300, 1400, 1500, 1600];
const yTicks = [-80, -70, -60, -50, -40, -30, -20, -10];

// matlab line order, 5w in plain red
const lineColors = ['#0072BD', '#D95319', '#FF0000', '#7E2F8E', '#77AC30', '#4DBEEE',
                    '#A2142F', '#0072BD', '#D95319', '#EDB120', '#7E2F8E', '#77AC30'];

Chart.defaults.font.family = '"Liberation Sans", Arial, Helvetica, sans-serif';

/*
# helpers for the labels and arrows
*/
var SERIF = '"Liberation Serif", "Times New Roman", serif';

function richText(ctx, parts, cx, cy, color) {
  var total = 0;
  parts.forEach(function(p){
    ctx.font = 'bold ' + (p.sup ? 15 : 24) + 'px ' + SERIF;
    total += ctx.measureText(p.t).width;
  });
  var x = cx - total / 2;
  ctx.fillStyle = color;
  ctx.textAlign = 'left';
  ctx.textBaseline = 'middle';
  parts.forEach(function(p){
    ctx.font = 'bold ' + (p.sup ? 15 : 24) + 'px ' + SERIF;
    ctx.fillText(p.t, x, p.sup ? cy - 8 : cy);
    x += ctx.measureText(p.t).width;
  });
}

function arrow(ctx, x1, y1, x2, y2, color, w, hl, hw) {
  var dx = x2 - x1, dy = y2 - y1, len = Math.sqrt(dx * dx + dy * dy);
  var ux = dx / len, uy = dy / len;
  var bx = x2 - ux * hl, by = y2 - uy * hl;
  ctx.strokeStyle = color;
  ctx.lineWidth = w;
  ctx.lineCap = 'butt';
  ctx.beginPath(); ctx.moveTo(x1, y1); ctx.lineTo(bx + ux, by + uy); ctx.stroke();
  ctx.fillStyle = color;
  ctx.beginPath();
  ctx.moveTo(x2, y2);
  ctx.lineTo(bx - uy * hw / 2, by + ux * hw / 2);
  ctx.lineTo(bx + uy * hw / 2, by - ux * hw / 2);
  ctx.closePath();
  ctx.fill();
}

var notes = {
  id: 'notes',
  afterDatasetsDraw: function(chart) {
    var ctx = chart.ctx, xs = chart.scales.x, ys = chart.scales.y, a = chart.chartArea;
    var X = function(v){ return xs.getPixelForValue(v); };
    var Y = function(v){ return ys.getPixelForValue(v); };
    var box = function(x0, y0, x1, y1){
      ctx.fillStyle = '#fff';
      ctx.fillRect(X(x0), Y(y0), X(x1) - X(x0), Y(y1) - Y(y0));
    };
    ctx.save();

    // axes box with inward ticks
    var L = Math.floor(a.left) + 0.5, R = Math.floor(a.right) + 0.5;
    var T = Math.floor(a.top) + 0.5, B = Math.floor(a.bottom) + 0.5;
    ctx.strokeStyle = '#262626';
    ctx.lineWidth = 1;
    ctx.strokeRect(L, T, R - L, B - T);
    ctx.beginPath();
    xTicks.forEach(function(v){
      var px = Math.floor(X(v)) + 0.5;
      ctx.moveTo(px, B); ctx.lineTo(px, B - 10);
      ctx.moveTo(px, T); ctx.lineTo(px, T + 10);
    });
    yTicks.forEach(function(v){
      var py = Math.floor(Y(v)) + 0.5;
      ctx.moveTo(L, py); ctx.lineTo(L + 11, py);
      ctx.moveTo(R, py); ctx.lineTo(R - 11, py);
    });
    ctx.stroke();

    var navy = '#14305e', navyArrow = '#1f4e79';

    // pump
    box(967, -11.6, 1090.5, -15.6);
    richText(ctx, [{t: 'Pump 1030nm'}], X(1035.1), Y(-13.8), navy);
    arrow(ctx, X(1031.1), Y(-15.85), X(1031.1), Y(-19.75), navyArrow, 5, 16, 18);

    // first vibrational line
    box(1294, -18, 1431, -21.6);
    richText(ctx, [{t: '1'}, {t: 'st', sup: true}, {t: ' Vib ~ 1355nm'}], X(1362.2), Y(-19.75), navy);
    arrow(ctx, X(1354.8), Y(-23.8), X(1354.8), Y(-29.9), navyArrow, 5, 16, 18);

    // rotational lines round the pump
    box(878, -56.6, 1016.2, -60.6);
    richText(ctx, [{t: '1'}, {t: 'St', sup: true}, {t: ' Rot Anti-Stoke'}], X(946.8), Y(-58.65), '#000');
    arrow(ctx, X(980.5), Y(-62.77), X(1013.9), Y(-73.06), '#000', 5, 20, 17);

    box(1066.8, -50.3, 1164.6, -54.6);
    richText(ctx, [{t: '1'}, {t: 'St', sup: true}, {t: ' Rot Stoke'}], X(1118.1), Y(-52.47), '#000');
    arrow(ctx, X(1079), Y(-56.6), X(1045.3), Y(-62.2), '#000', 5, 20, 17);

    // rotational-vibrational lines round 1355
    box(1243, -32.1, 1333.3, -39.5);
    richText(ctx, [{t: '1'}, {t: 'St', sup: true}, {t: ' Rot-Vib'}], X(1288.1), Y(-34.05), '#000');
    richText(ctx, [{t: 'Anti-Stoke'}], X(1288.1), Y(-37.5), '#000');
    arrow(ctx, X(1292.8), Y(-40.74), X(1344.5), Y(-56.45), '#000', 5, 20, 17);

    box(1408, -61, 1532, -65.15);
    richText(ctx, [{t: '1'}, {t: 'St', sup: true}, {t: ' Rot-Vib Stoke'}], X(1469.5), Y(-63.2), '#000');
    arrow(ctx, X(1395.2), Y(-61.14), X(1370.3), Y(-57), '#000', 5, 20, 17);

    ctx.restore();
  },
  afterDraw: function(chart) {
    // boxed legend, top right inside the axes
    var ctx = chart.ctx, a = chart.chartArea;
    var lx = Math.floor(a.right) - 110 + 0.5, ly = Math.floor(a.top) + 13 + 0.5, lw = 97, lh = 344;
    ctx.save();
    ctx.fillStyle = '#fff';
    ctx.fillRect(lx, ly, lw, lh);
    ctx.strokeStyle = '#262626';
    ctx.lineWidth = 1;
    ctx.strokeRect(lx, ly, lw, lh);
    ctx.font = '20px "Liberation Sans", Arial, sans-serif';
    ctx.textAlign = 'left';
    ctx.textBaseline = 'middle';
    chart.data.datasets.forEach(function(ds, i){
      var y = ly + 19 + i * 28.2;
      ctx.strokeStyle = ds.borderColor;
      ctx.lineWidth = 2.6;
      ctx.beginPath(); ctx.moveTo(lx + 7, y); ctx.lineTo(lx + 50, y); ctx.stroke();
      ctx.fillStyle = '#000';
      ctx.fillText(ds.label, lx + 54, y + 1);
    });
    ctx.restore();
  }
};

/*
# line chart of the spectra
*/
var ctx = document.getElementById('myChart').getContext('2d');
var chart = new Chart(ctx, {
  type: 'line',
  data: {
    datasets: spectra.map(function(s, i){
      return {
        label: powers[i],
        data: s.map(function(p){ return {x: p[0], y: p[1]}; }),
        borderColor: lineColors[i],
        backgroundColor: lineColors[i],
        borderWidth: i == 2 ? 3 : 2.6,
        borderJoinStyle: 'round',
        borderCapStyle: 'round',
        pointRadius: 0,
        tension: 0,
        order: spectra.length - i   // last power on top
      };
    })
  },
  options: {
    responsive: false,
    animation: false,
    devicePixelRatio: 1,
    layout: { padding: { left: 0, right: 33, top: 18, bottom: 0 } },
    plugins: { legend: { display: false }, tooltip: { enabled: false } },
    scales: {
      x: {
        type: 'linear', min: 850, max: 1600,
        afterBuildTicks: function(s){ s.ticks = xTicks.map(function(v){ return {value: v}; }); },
        afterFit: function(s){ s.height = 78; s.paddingLeft = 0; s.paddingRight = 0; },
        grid: { color: '#e2e2e2', drawTicks: false },
        border: { display: false },
        ticks: { autoSkip: false, maxRotation: 0, padding: 11, color: '#262626', font: { size: 26 },
                 callback: function(v){ return String(v); } },
        title: { display: true, text: 'Wavelength [nm]', color: '#262626', font: { size: 29 }, padding: { top: 0, bottom: 3 } }
      },
      y: {
        min: -80, max: -10,
        afterBuildTicks: function(s){ s.ticks = yTicks.map(function(v){ return {value: v}; }); },
        afterFit: function(s){ s.width = 93.5; s.paddingTop = 0; s.paddingBottom = 0; },
        grid: { color: '#e2e2e2', drawTicks: false },
        border: { display: false },
        ticks: { autoSkip: false, padding: 11, color: '#262626', font: { size: 26 },
                 callback: function(v){ return String(v); } },
        title: { display: true, text: 'Power [dBm]', color: '#262626', font: { size: 28 }, padding: { top: 9, bottom: 0 } }
      }
    }
  },
  plugins: [notes]
});
</script>
</body>
</html>
